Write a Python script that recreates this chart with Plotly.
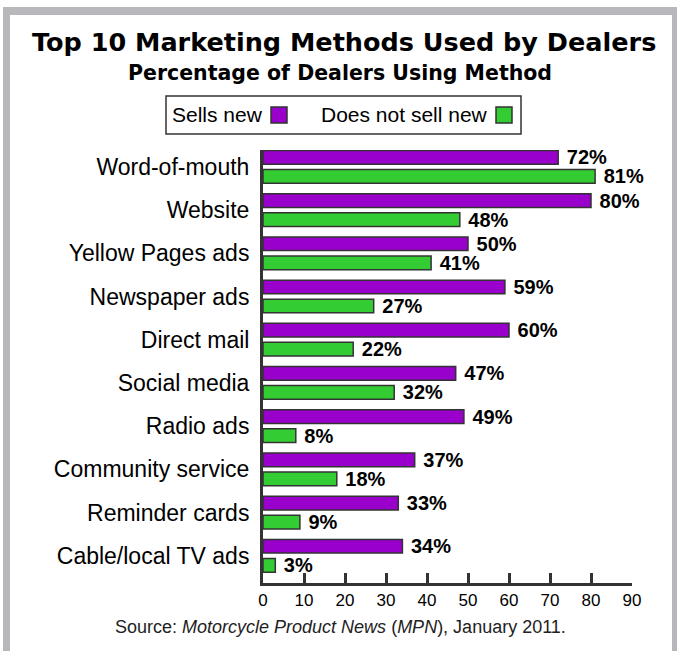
import plotly.graph_objects as go

categories = ["Word-of-mouth", "Website", "Yellow Pages ads", "Newspaper ads", "Direct mail",
              "Social media", "Radio ads", "Community service", "Reminder cards", "Cable/local TV ads"]
sells_new = [72, 80, 50, 59, 60, 47, 49, 37, 33, 34]
not_sell_new = [81, 48, 41, 27, 22, 32, 8, 18, 9, 3]
x_ticks = [0, 10, 20, 30, 40, 50, 60, 70, 80, 90]

W, H = 677, 651
L, R, T, B = 263, 632, 150, 583  # plot area in pixels

def px(xp):
    return (xp - L) / (R - L)

def py(yp):
    return (B - yp) / (B - T)

PURPLE = "#9900cc"
GREEN = "#33cc33"
EDGE = "#333333"
FONT = "Liberation Sans, Arial, sans-serif"

fig = go.Figure()
for name, vals, col in [("Sells new", sells_new, PURPLE), ("Does not sell new", not_sell_new, GREEN)]:
    fig.add_trace(go.Bar(
        y=categories, x=vals, orientation="h", name=name,
        marker=dict(color=col, line=dict(color=EDGE, width=1.5)),
        text=[f"\u00a0{v}%" for v in vals], textposition="outside", constraintext="none",
        textfont=dict(family=FONT, size=20, color="black", weight="bold"),
        cliponaxis=False, showlegend=False, hoverinfo="skip",
    ))

shapes = [
    dict(type="rect", xref="paper", yref="paper", x0=px(3), x1=px(677), y0=py(7), y1=py(660),
         fillcolor="#b8b8bc", line=dict(width=0), layer="below"),
    dict(type="rect", xref="paper", yref="paper", x0=px(10), x1=px(672), y0=py(15), y1=py(660),
         fillcolor="white", line=dict(width=0), layer="below"),
    # legend box
    dict(type="rect", xref="paper", yref="paper", x0=px(166), x1=px(521), y0=py(96), y1=py(134),
         fillcolor="white", line=dict(color=EDGE, width=1.5)),
    dict(type="rect", xref="paper", yref="paper", x0=px(271), x1=px(287), y0=py(107), y1=py(123),
         fillcolor=PURPLE, line=dict(color=EDGE, width=1.5)),
    dict(type="rect", xref="paper", yref="paper", x0=px(496), x1=px(512), y0=py(107), y1=py(123),
         fillcolor=GREEN, line=dict(color=EDGE, width=1.5)),
]

annotations = [
    dict(text="Top 10 Marketing Methods Used by Dealers", x=px(344), y=py(42), xref="paper", yref="paper",
         showarrow=False, xanchor="center", yanchor="middle",
         font=dict(family="DejaVu Sans", size=25.5, color="black", weight="bold")),
    dict(text="Percentage of Dealers Using Method", x=px(340), y=py(72.5), xref="paper", yref="paper",
         showarrow=False, xanchor="center", yanchor="middle",
         font=dict(family="DejaVu Sans", size=20.5, color="black", weight="bold")),
    dict(text="Sells new", x=px(265), y=py(114), xref="paper", yref="paper",
         showarrow=False, xanchor="right", yanchor="middle",
         font=dict(family=FONT, size=21, color="black")),
    dict(text="Does not sell new", x=px(490), y=py(114), xref="paper", yref="paper",
         showarrow=False, xanchor="right", yanchor="middle",
         font=dict(family=FONT, size=21, color="black")),
    dict(text="Source: <i>Motorcycle Product News</i> (<i>MPN</i>), January 2011.", x=px(340), y=py(627),
         xref="paper", yref="paper", showarrow=False, xanchor="center", yanchor="middle",
         font=dict(family=FONT, size=18, color="#222222")),
]

fig.update_layout(
    width=W, height=H,
    margin=dict(l=L, r=W - R, t=T, b=H - B, pad=0),
    paper_bgcolor="white", plot_bgcolor="rgba(0,0,0,0)",
    barmode="group", bargap=0.12, bargroupgap=0.28,
    shapes=shapes, annotations=annotations,
    showlegend=False,
    xaxis=dict(range=[0, 90], tickvals=x_ticks, ticktext=[str(t) for t in x_ticks],
               showgrid=False, zeroline=False, showline=True, linecolor=EDGE, linewidth=3,
               ticks="inside", ticklen=10, tickwidth=2.5, tickcolor=EDGE,
               tickfont=dict(family=FONT, size=17, color="black"), fixedrange=True),
    yaxis=dict(categoryorder="array", categoryarray=categories, range=[9.63, -0.39],
               showgrid=False, zeroline=False, showline=True, linecolor=EDGE, linewidth=3,
               ticks="", ticklabelstandoff=6,
               tickfont=dict(family=FONT, size=23, color="black"), fixedrange=True),
)

fig.write_html("out.html", config={"displayModeBar": False},
               post_script="document.body.style.margin='0';document.body.style.overflow='hidden';")
